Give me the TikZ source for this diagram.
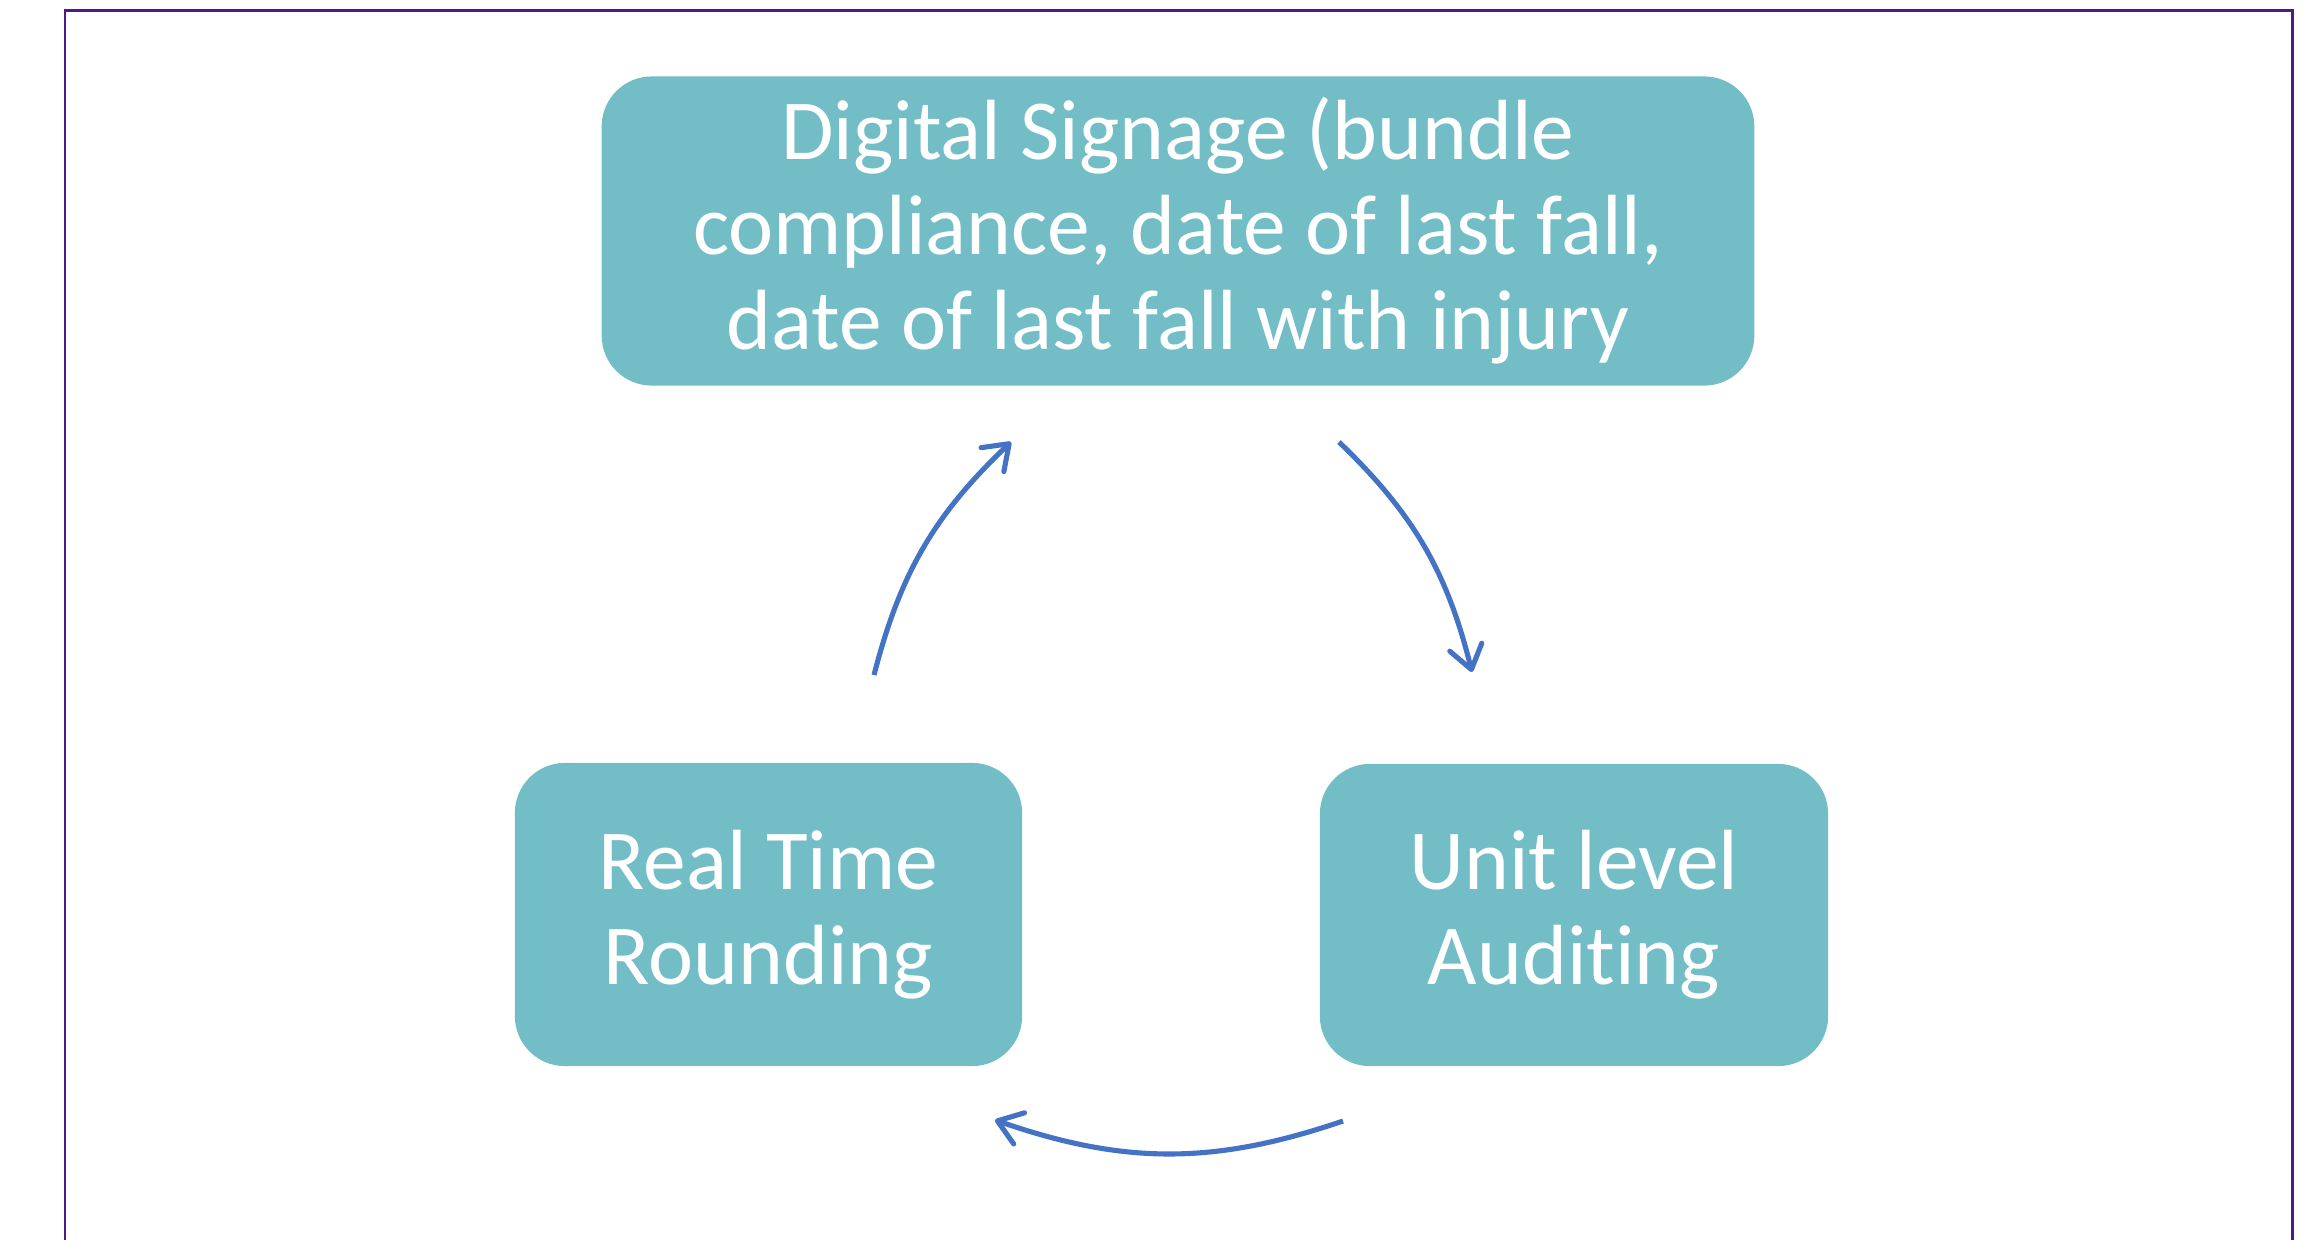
\documentclass[tikz,border=0pt]{standalone}
\usepackage{fontspec}
\setmainfont{Carlito}[RawFeature={-liga}]
\usetikzlibrary{arrows.meta}
\definecolor{boxfill}{RGB}{114,189,198}
\definecolor{arrowblue}{RGB}{68,114,196}
\definecolor{framepurple}{RGB}{80,24,136}
\tikzset{
  stagebox/.style={draw=none, fill=boxfill, rounded corners=0.5cm,
    text=white, align=center, inner sep=0pt,
    font=\fontsize{24.3pt}{27pt}\selectfont},
  cyclearrow/.style={draw=arrowblue, line width=1.45pt,
    -{Straight Barb[length=2.3mm,width=3.3mm,round]}}
}
\begin{document}
\begin{tikzpicture}[x=0.01cm, y=-0.01cm]
  \useasboundingbox (0,0) rectangle (2315,1239);
  % outer frame, open at the bottom edge of the page
  \draw[framepurple, line width=0.85pt] (65,1260) -- (65,10.5) -- (2292,10.5) -- (2292,1260);

  % the three stages
  \node[stagebox, minimum width=11.52cm, minimum height=3.09cm] (sign) at (1178,231)
    {Digital Signage (bundle\\compliance, date of last fall,\\date of last fall with injury};
  \node[stagebox, minimum width=5.07cm, minimum height=3.03cm] (round) at (768.5,914.5)
    {Real Time\\Rounding};
  \node[stagebox, minimum width=5.08cm, minimum height=3.02cm] (audit) at (1574,915)
    {Unit level\\Auditing};

  % arrow ends
  \coordinate (r1) at (874,675);
  \coordinate (s1) at (1011,442);
  \coordinate (s2) at (1339,442);
  \coordinate (a2) at (1472,672);
  \coordinate (a3) at (1343,1121);
  \coordinate (r3) at (995,1120);

  \draw[cyclearrow] (r1) to[bend left=16] (s1);
  \draw[cyclearrow] (s2) to[bend left=16] (a2);
  \draw[cyclearrow] (a3) to[bend left=19] (r3);
\end{tikzpicture}
\end{document}
